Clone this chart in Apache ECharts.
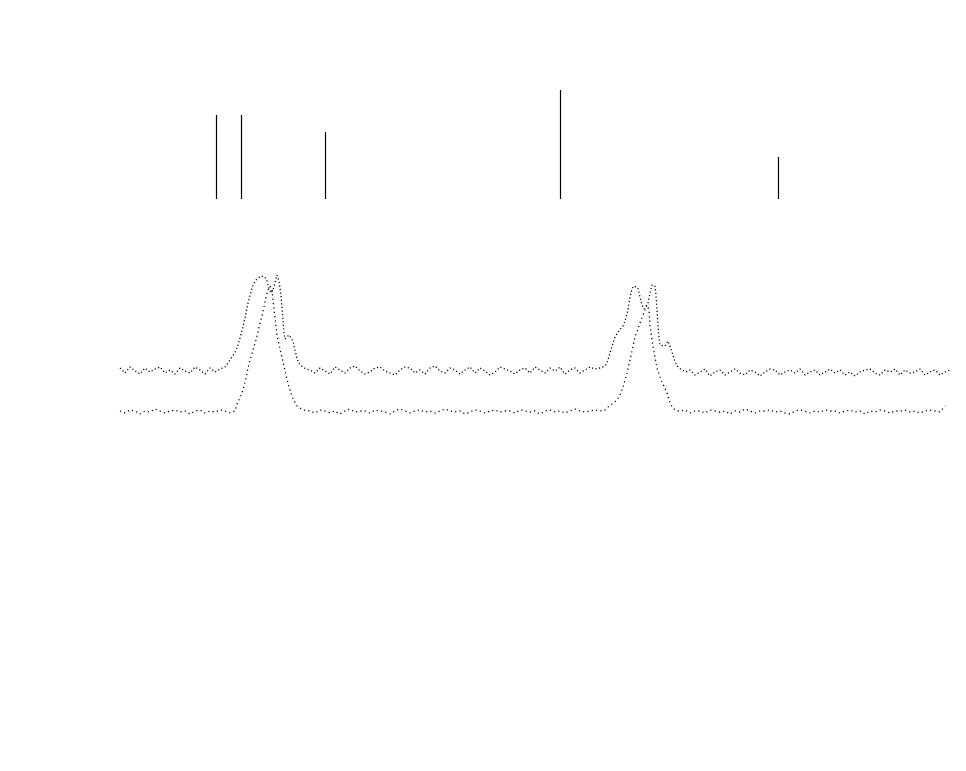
<!DOCTYPE html>
<html>
<head>
<meta charset="utf-8">
<script src="https://cdn.jsdelivr.net/npm/echarts@6/dist/echarts.min.js"></script>
<style>html,body{margin:0;padding:0;background:#fff}#c{width:966px;height:771px}</style>
</head>
<body>
<div id="c"></div>
<script>
// Stick spectrum (position, top intensity), common base level
const stickPos = [96, 121, 205, 440, 658];
const stickTop = [305, 305, 288, 330, 263];
const stickBase = 221;

// Trace A (upper, resolved) – baseline samples every 5 units and peak regions
const aBase1 = [52,47,53,49,46,52,48,51,53,47,50,46,52,49,47,53,50,46,52,48,51,53]; // x 0..105
const aPeak1X = [110,114,117,120,123,126,128,131,133,136,138,141,143,145,147,149,151,153,155,157,158,159,160,161,162,163,164,165,167,169,171,173,175,177,180,183,186,190];
const aPeak1Y = [60,66,72,82,93,107,117,128,135,140,142,144,144,143,139,132,127,130,138,145,144,139,132,124,112,100,87,81,82,85,84,79,70,61,55,53,51,50];
const aBase2 = [47,52,49,46,53,50,47,52,54,49,46,48,52,53,49,47,45,50,53,52,47,50,46,52,54,49,47,52,50,46,50,53,47,52,49,45,48,53,51,49,46,50,52,47,53,50,47,52,49,53,46,50,52,47,50,53,51]; // x 195..475
const aPeak2X = [480,485,487,490,493,495,498,500,503,505,508,510,512,514,516,518,520,522,524,526,528,530,532,533,535,536,537,538,539,540,542,545,548,550,552,555,558,562,566];
const aPeak2Y = [52,54,57,67,77,83,88,90,94,99,110,123,131,134,135,132,123,115,111,112,117,127,135,137,134,125,110,95,82,75,73,74,79,77,68,58,53,50,48];
const aBase3 = [50,45,48,51,44,48,50,45,48,51,47,45,50,48,44,48,51,50,45,48,50,47,51,45,48,50,45,48,51,47,50,45,48,44,48,50,51,47,45,50,48,51,45,50,47,48,51,45,48,50,45,48,50]; // x 570..830

// Trace B (lower, unresolved)
const bBase1 = [9,7,10,9,6,9,8,11,9,7,9,10,8,9,6,9,10,7,9,8,10,9,7,9]; // x 0..115
const bPeak1X = [117,120,123,126,128,130,133,136,138,140,142,144,146,148,150,152,153,155,157,160,163,166,168,172,177,183];
const bPeak1Y = [16,22,30,42,52,60,70,80,88,97,104,113,123,130,134,131,120,102,85,71,58,45,37,23,14,10];
const bBase2 = [9,7,10,9,7,9,6,9,11,8,9,9,7,10,9,8,6,9,11,9,7,9,10,8,9,7,9,11,9,8,9,6,8,10,9,7,9,10,8,9,9,7,10,9,8,9,6,9,10,8,9,7,9,11,9,8,9,10,9]; // x 190..480
const bPeak2X = [485,488,492,497,500,503,507,510,513,515,518,520,523,525,527,529,530,532,534,537,540,543,547,550,553,557];
const bPeak2Y = [10,13,16,20,25,33,47,60,74,83,91,97,105,110,115,110,95,80,68,52,43,36,27,17,12,9];
const bBase3 = [9,10,7,9,9,7,10,9,8,9,6,9,8,11,9,7,9,9,10,8,9,7,6,9,10,9,7,9,8,10,9,9,7,9,10,8,9,6,9,8,10,9,7,9,9,10,8,9,7,9,10,9,8,14]; // x 560..825

function seg(start, step, ys){ return ys.map((y,i)=>[start+i*step, y]); }
function zip(xs, ys){ return xs.map((x,i)=>[x, ys[i]]); }

const traceA = [].concat(seg(0,5,aBase1), zip(aPeak1X,aPeak1Y), seg(195,5,aBase2), zip(aPeak2X,aPeak2Y), seg(570,5,aBase3));
const traceB = [].concat(seg(0,5,bBase1), zip(bPeak1X,bPeak1Y), seg(190,5,bBase2), zip(bPeak2X,bPeak2Y), seg(560,5,bBase3));
const sticks = stickPos.map((x,i)=>[x, stickBase, stickTop[i]]);

const chart = echarts.init(document.getElementById('c'), null, {renderer:'canvas'});
chart.setOption({
  animation:false,
  backgroundColor:'#ffffff',
  grid:{left:120, top:80, width:830, height:340},
  xAxis:{type:'value', min:0, max:830, show:false},
  yAxis:{type:'value', min:0, max:340, show:false},
  series:[
    {type:'custom', data:sticks, renderItem:function(params, api){
      const p0 = api.coord([api.value(0), api.value(1)]);
      const p1 = api.coord([api.value(0), api.value(2)]);
      const x = Math.round(p0[0]) + 0.5;
      return {type:'line', shape:{x1:x, y1:p0[1], x2:x, y2:p1[1]}, style:{stroke:'#000', lineWidth:1.2}};
    }},
    {type:'line', data:traceA, showSymbol:false, symbol:'none', lineStyle:{color:'#000', width:1.3, type:[1.2,2.4]}},
    {type:'line', data:traceB, showSymbol:false, symbol:'none', lineStyle:{color:'#000', width:1.3, type:[1.2,3.2]}}
  ]
});
</script>
</body>
</html>
